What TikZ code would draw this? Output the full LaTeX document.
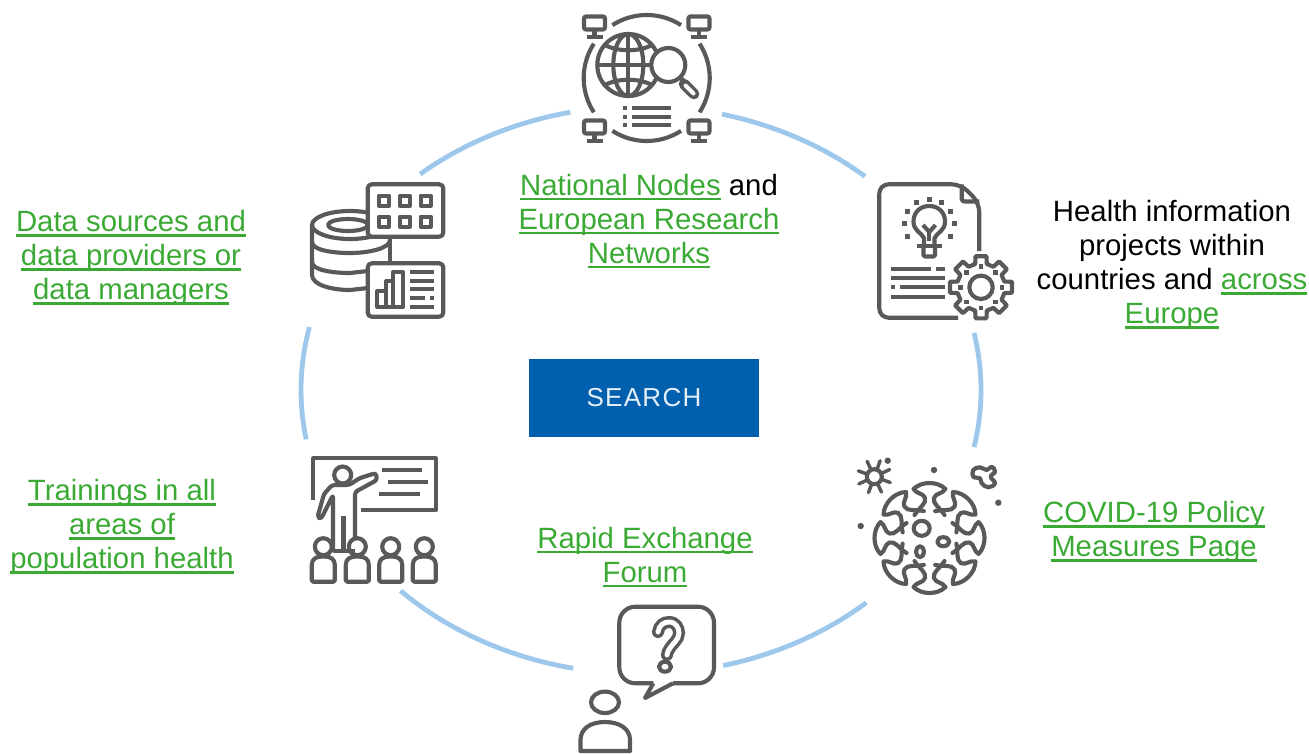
\documentclass[tikz,border=0pt]{standalone}
\usepackage{fontspec}
\setmainfont{Liberation Sans}
\newfontfamily\searchfont[LetterSpace=5]{Liberation Sans}
\definecolor{ring}{HTML}{9DC8EC}
\definecolor{icn}{HTML}{595959}
\definecolor{lk}{HTML}{3BAA35}
\definecolor{btn}{HTML}{0060AE}
\newsavebox{\lnkbox}
\newcommand{\lnk}[1]{\sbox{\lnkbox}{\color{lk}#1}{\color{lk}\leavevmode\rlap{\raisebox{-3.7pt}{\rule{\wd\lnkbox}{1.9pt}}}\usebox{\lnkbox}}}
\newcommand{\ringarc}[2]{\draw[ringline] plot[domain=#1:#2,samples=50,smooth] ({641+340*cos(\x)},{390+284*sin(\x)});}
\newcommand{\iarc}[6]{\draw[ic] plot[domain=#5:#6,samples=24,smooth] ({#1+#3*cos(\x)},{#2+#4*sin(\x)});}
\newcommand{\monitor}[2]{%
  \draw[ic,rounded corners=1.5pt] (#1-10.5,#2-6.5) rectangle (#1+10.5,#2+6.5);
  \draw[ic] (#1,#2+6.5) -- (#1,#2+13);
  \draw[ic] (#1-8,#2+14) -- (#1+8,#2+14);}
\newcommand{\student}[1]{%
  \draw[ic] (#1,546.7) circle [radius=8.5];
  \draw[ic,rounded corners=1pt,fill=white] (#1-11.5,581.7) -- (#1-11.5,566) .. controls (#1-11.5,559) and (#1-7,556.5) .. (#1,556.5) .. controls (#1+7,556.5) and (#1+11.5,559) .. (#1+11.5,566) -- (#1+11.5,581.7) -- cycle;}
\tikzset{
  ringline/.style={draw=ring,line width=3.6pt},
  ic/.style={draw=icn,line width=3.1pt,line join=round},
  ict/.style={draw=icn,line width=3.1pt},
  dotty/.style={fill=icn,draw=none},
  lbl/.style={font=\fontsize{22}{25.5}\selectfont,align=center,inner sep=0pt,text=black},
}
\begin{document}
\begin{tikzpicture}[x=0.75pt,y=-0.75pt]
\useasboundingbox (0,0) rectangle (1309,753);
% ring
\ringarc{-76.2}{-48.8}
\ringarc{-11.6}{11.6}
\ringarc{48.5}{76}
\ringarc{101.5}{135}
\ringarc{170}{192.8}
\ringarc{229.5}{258}
% labels
\node[lbl] (national) at (649,221) {\lnk{National Nodes} and\\\lnk{European Research}\\\lnk{Networks}};
\node[lbl] (sources) at (131,258) {\lnk{Data sources and}\\\lnk{data providers or}\\\lnk{data managers}};
\node[lbl] (projects) at (1172,265) {Health information\\projects within\\countries and \lnk{across}\\\lnk{Europe}};
\node[lbl] (covid) at (1154,532) {\lnk{COVID-19 Policy}\\\lnk{Measures Page}};
\node[lbl] (rapid) at (645,557) {\lnk{Rapid Exchange}\\\lnk{Forum}};
\node[lbl] (train) at (122,527) {\lnk{Trainings in all}\\\lnk{areas of}\\\lnk{population health}};
% button
\node[fill=btn,minimum width=172.5pt,minimum height=58.5pt,inner sep=0pt,text=white!90!btn,font=\searchfont\fontsize{19.5}{22}\selectfont] (search) at (644,398) {SEARCH};
% --- globe icon
\iarc{646.7}{78}{63}{63}{-123}{-57}
\iarc{646.7}{78}{63}{63}{57}{123}
\iarc{646.7}{78}{63}{63}{147}{213}
\iarc{646.7}{78}{63}{63}{-33}{33}
\monitor{594.5}{23}\monitor{699}{23}\monitor{594.5}{127}\monitor{699}{127}
\draw[ic] (628.3,65) circle [radius=31];
\draw[ic] (628.3,65) ellipse [x radius=15,y radius=31];
\draw[ic] (628.3,34) -- (628.3,96);
\draw[ic] (597.3,65) -- (659.3,65);
\draw[ic] (605,45) .. controls (618,52) and (639,52) .. (652,45);
\draw[ic] (605,85) .. controls (618,78) and (639,78) .. (652,85);
\draw[icn,line width=8pt,line cap=round] (684,84) -- (694,94);
\draw[white,line width=3pt,line cap=round] (685.5,85.5) -- (693.5,93.5);
\draw[ic] (680,77) -- (684,81);
\draw[ic,fill=white] (668.3,65) circle [radius=17];
\foreach \yy in {107.7,116.7,125.3}{
  \draw[ic] (631.7,\yy) -- (670.7,\yy);
  \draw[ic] (623,\yy) -- (627,\yy);
}
% --- document icon
\draw[ic,rounded corners=7pt] (979.3,251) -- (979.3,203) -- (961,184.3) -- (879.3,184.3) -- (879.3,317.7) -- (958,317.7);
\draw[ic,rounded corners=2pt] (961.7,184.3) -- (961.7,201.5) -- (979.3,201.5);
\draw[ic] (924,244) -- (924,238) .. controls (921,232) and (913.5,231) .. (913.5,221.5) .. controls (913.5,212) and (920.5,206) .. (929.3,206) .. controls (938,206) and (945,212) .. (945,221.5) .. controls (945,231) and (937.5,232) .. (934.5,238) -- (934.5,244);
\draw[ic] (916.7,246) -- (941.7,246);
\draw[ic,rounded corners=1pt] (923.5,246) -- (923.5,256.5) -- (935,256.5) -- (935,246);
\draw[ic] (923,225) -- (929.3,232) -- (935.5,225);
\draw[ic] (929.3,232) -- (929.3,241);
\foreach \px/\py in {929.3/199,916.7/202.3,907.7/211,904.3/223.3,907.7/236,941.7/202.3,950.7/211,954/223.3,950.7/236}{
  \fill[dotty] (\px-2.5,\py-2.5) rectangle (\px+2.5,\py+2.5);
}
\foreach \yy/\xa/\xb in {269/891/931,278.3/891/945,296.7/891/945}{\draw[ict] (\xa,\yy) -- (\xb,\yy);}
\draw[ict] (936,269) -- (945,269);
\draw[ict] (891,287.3) -- (895,287.3);
\draw[ict] (900,287.3) -- (945,287.3);
\draw[ic,fill=white] ({981+24*cos(-14)},{287.3+24*sin(-14)})
  \foreach \a in {0,45,...,315}{
    -- ({981+24*cos(\a-14)},{287.3+24*sin(\a-14)})
    -- ({981+31.5*cos(\a-10)},{287.3+31.5*sin(\a-10)})
    -- ({981+31.5*cos(\a+10)},{287.3+31.5*sin(\a+10)})
    -- ({981+24*cos(\a+14)},{287.3+24*sin(\a+14)})
  } -- cycle;
\draw[ic] (981,287.3) circle [radius=11.7];
\foreach \a in {0,45,...,315}{
  \fill[dotty] ({981+20.7*cos(\a)-2.2},{287.3+20.7*sin(\a)-2.2}) rectangle ++(4.4,4.4);
}
% --- virus icon
\foreach \r in {0,45,...,315}{
  \begin{scope}[shift={(929.5,538)},rotate=\r]
    \draw[ic,line cap=round] (15,-23) .. controls (10,-31) and (3,-34) .. (4.5,-40) .. controls (6,-45) and (13,-44) .. (16,-49) .. controls (8,-57) and (-8,-57) .. (-16,-49) .. controls (-13,-44) and (-6,-45) .. (-4.5,-40) .. controls (-3,-34) and (-10,-31) .. (-15,-23);
  \end{scope}
}
\draw[ic] (921.7,528.3) ellipse [x radius=8,y radius=7.5];
\draw[ic] (943.3,541.7) ellipse [x radius=6,y radius=4.5];
\draw[ic] (920,551.7) ellipse [x radius=4,y radius=5.5];
\draw[ic] (874.3,476.7) circle [radius=7.5];
\foreach \a in {0,45,...,315}{
  \draw[ic,line width=2.6pt,line cap=round] ({874.3+8*cos(\a+20)},{476.7+8*sin(\a+20)}) -- ({874.3+17*cos(\a+20)},{476.7+17*sin(\a+20)});
}
\foreach \px/\py in {887.7/460.7,934/470,998.3/502.7,860.7/526}{\fill[dotty] (\px,\py) circle [radius=3.2];}
\draw[ic] plot[smooth cycle,tension=0.7] coordinates {(973.3,470) (980,467.3) (986.7,470) (991.7,466.7) (995,471.7) (990.7,476.7) (995,483.3) (988.3,487.3) (981.7,483.3) (980,478.3) (973.3,476.7)};
% --- speech icon
\draw[ic,rounded corners=12pt] (653.3,683.3) -- (619.3,683.3) -- (619.3,606.7) -- (714,606.7) -- (714,683.3) -- (673,683.3);
\draw[ic] (653.3,683.3) -- (645,698) -- (673,683.3);
\draw[icn,line width=9pt,line cap=round] (658,632) .. controls (659,625) and (664,622) .. (669,622) .. controls (676,622) and (679,628) .. (679,633) .. controls (679,640) and (672,644) .. (670,648) .. controls (668,651) and (667,653) .. (667,655);
\draw[white,line width=3.7pt,line cap=round] (658,632) .. controls (659,625) and (664,622) .. (669,622) .. controls (676,622) and (679,628) .. (679,633) .. controls (679,640) and (672,644) .. (670,648) .. controls (668,651) and (667,653) .. (667,655);
\draw[ic] (665,666.7) ellipse [x radius=6,y radius=5];
\draw[ic] (605,702.3) ellipse [x radius=14,y radius=10.7];
\draw[ic] (580.5,751) -- (580.5,740) .. controls (580.5,729) and (590,722) .. (605,722) .. controls (620,722) and (630,729) .. (630,740) -- (630,751) -- cycle;
% --- teacher icon
\draw[ic] (313.3,500) -- (313.3,458.3) -- (435.7,458.3) -- (435.7,510) -- (361,510);
\draw[ic] (381.7,470) -- (421.7,470);
\draw[ic] (388.3,482.3) -- (428.3,482.3);
\draw[ic] (379.3,494.3) -- (420,494.3);
\draw[ic] (342.7,475) circle [radius=8.5];
\draw[ic,rounded corners=2pt] (333,552) -- (333,495) -- (321,519) -- (317.5,517) -- (324,494) -- (332,485) -- (349,485) -- (360,478) -- (376,473) -- (377,480) -- (355,492) -- (355,540);
\draw[ic] (343.5,516) -- (343.5,550);
\draw[ic] (333,551) -- (355,551);
\student{323.3}\student{357.3}\student{390.7}\student{424.3}
% --- database icon
\draw[ic] (350,225) ellipse [x radius=38,y radius=14];
\draw[ic] (348,225) ellipse [x radius=20,y radius=6];
\draw[ic] (312,225) -- (312,275) .. controls (312,285) and (332,290) .. (350,290) -- (368,288);
\draw[ic] (312,242) .. controls (312,250) and (332,253) .. (350,253) .. controls (370,253) and (390,248) .. (390,240);
\draw[ic] (312,262) .. controls (312,270) and (332,273) .. (350,273) -- (368,271);
\draw[ic] (390,225) -- (390,263);
\draw[ic,fill=white,rounded corners=3pt] (367.7,184.3) rectangle (443.3,236.7);
\foreach \cx in {384,405,425.7}{\foreach \cy in {200.7,221.7}{
  \draw[ic] (\cx-5,\cy-5) rectangle (\cx+5,\cy+5);
}}
\draw[ic,fill=white,rounded corners=3pt] (367.7,263.3) rectangle (443.3,316.7);
\draw[ic] (377,307) -- (377,291) -- (386,291) -- (386,307) -- cycle;
\draw[ic] (386,307) -- (386,281) -- (393,281) -- (393,307) -- cycle;
\draw[ic] (393,307) -- (393,272) -- (403,272) -- (403,307) -- cycle;
\foreach \yy in {272.3,281,289.3,306.7}{\draw[ic] (410,\yy) -- (434,\yy);}
\draw[ic] (410,298.3) -- (425,298.3);
\draw[ic] (430,298.3) -- (434,298.3);
\end{tikzpicture}
\end{document}
